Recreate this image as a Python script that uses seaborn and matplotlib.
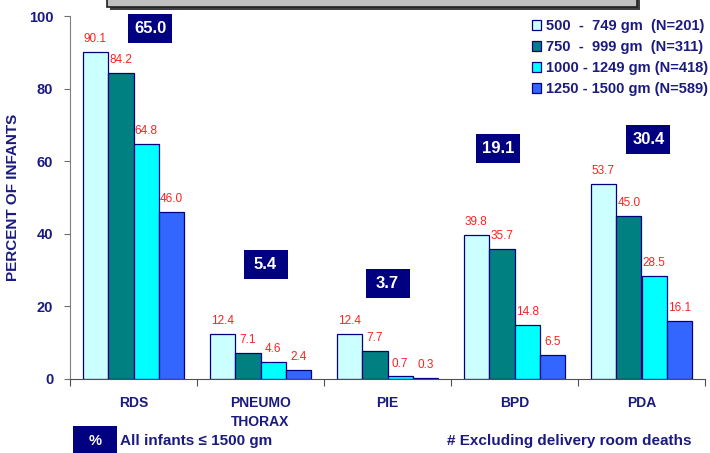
import matplotlib
matplotlib.use("Agg")
import matplotlib.pyplot as plt
import matplotlib.transforms as mtrans
from matplotlib.patches import Rectangle
import seaborn as sns
import pandas as pd

# ---- data ----
categories = ["RDS", "PNEUMO\nTHORAX", "PIE", "BPD", "PDA"]
groups = ["500  -  749 gm  (N=201)", "750  -  999 gm  (N=311)",
          "1000 - 1249 gm (N=418)", "1250 - 1500 gm (N=589)"]
v_500_749 = [90.1, 12.4, 12.4, 39.8, 53.7]
v_750_999 = [84.2, 7.1, 7.7, 35.7, 45.0]
v_1000_1249 = [64.8, 4.6, 0.7, 14.8, 28.5]
v_1250_1500 = [46.0, 2.4, 0.3, 6.5, 16.1]
all_infants = [65.0, 5.4, 3.7, 19.1, 30.4]
y_ticks = [0, 20, 40, 60, 80, 100]

# ---- layout / style ----
colors = ["#CCFFFF", "#008080", "#00FFFF", "#3366FF"]
navy = "#000080"
text_navy = "#1A1A80"
box_dx = [0.13, 0.04, 0.0, -0.13, 0.055]
box_y = [96.6, 31.5, 26.4, 63.6, 66.1]

sns.set_style("white")
plt.rcParams["font.family"] = ["Liberation Sans", "DejaVu Sans"]

series = [v_500_749, v_750_999, v_1000_1249, v_1250_1500]
rows = []
for g, vals in zip(groups, series):
    for c, v in zip(categories, vals):
        rows.append({"category": c, "group": g, "value": v})
df = pd.DataFrame(rows)

fig = plt.figure(figsize=(7.1, 4.53), dpi=100)
ax = fig.add_axes([70 / 710, 1 - 379 / 453, 635 / 710, 363 / 453])

sns.barplot(data=df, x="category", y="value", hue="group", order=categories,
            hue_order=groups, palette=colors, saturation=1, width=0.8,
            edgecolor=navy, linewidth=0.9, ax=ax)

for cont in ax.containers:
    ax.bar_label(cont, fmt="%.1f", padding=5, color="#FF2020", fontsize=8.5)

ax.set_ylim(0, 100)
ax.set_xlim(-0.5, 4.5)
ax.set_yticks(y_ticks)
ax.set_yticklabels([str(t) for t in y_ticks], fontsize=10.5, fontweight="bold",
                   color=text_navy)
ax.tick_params(axis="y", length=4, width=0.8, color="#707070", pad=8, left=True)
ax.set_xticks(range(len(categories)))
ax.set_xticklabels(categories, fontsize=10, fontweight="bold", color=text_navy,
                   linespacing=1.5, va="top")
ax.tick_params(axis="x", which="major", length=0, pad=12)
ax.set_xticks([i - 0.5 for i in range(len(categories) + 1)], minor=True)
ax.tick_params(axis="x", which="minor", length=5, width=0.8, color="#505050",
               direction="out", bottom=True)
ax.set_xlabel("")
ax.set_ylabel("")
for s in ["top", "right"]:
    ax.spines[s].set_visible(False)
ax.spines["left"].set_color("#808080")
ax.spines["bottom"].set_color("#505050")

# overall-value boxes
for i, (val, dx, y) in enumerate(zip(all_infants, box_dx, box_y)):
    trans = fig.dpi_scale_trans + mtrans.ScaledTranslation(i + dx, y, ax.transData)
    ax.add_patch(Rectangle((-0.22, -0.145), 0.44, 0.29, transform=trans,
                           facecolor=navy, edgecolor="none", clip_on=False, zorder=5))
    ax.text(i + dx, y, f"{val:.1f}", ha="center", va="center", color="white",
            fontsize=12, fontweight="bold", zorder=6)

# legend
handles, labels = ax.get_legend_handles_labels()
ax.legend(handles, labels, loc="upper left", bbox_to_anchor=(532 / 710, 1 - 19 / 453),
          bbox_transform=fig.transFigure, frameon=False, borderpad=0,
          borderaxespad=0, handlelength=0.62, handleheight=0.62, handletextpad=0.35,
          labelspacing=0.48, prop={"weight": "bold", "size": 10.5},
          labelcolor=text_navy)

fig.text(13 / 710, 1 - 197 / 453, "PERCENT OF INFANTS", rotation=90, ha="center",
         va="center", fontsize=11, fontweight="bold", color=text_navy)

# top gray banner (cut off)
fig.add_artist(Rectangle((110 / 710, 1 - 10 / 453), 530 / 710, 20 / 453,
                         transform=fig.transFigure, facecolor="#404040",
                         edgecolor="none"))
fig.add_artist(Rectangle((107 / 710, 1 - 7 / 453), 530 / 710, 20 / 453,
                         transform=fig.transFigure, facecolor="#C0C0C0",
                         edgecolor="#202020", linewidth=1.2))

# bottom notes
fig.add_artist(Rectangle((73 / 710, 0), 44 / 710, 27 / 453, transform=fig.transFigure,
                         facecolor=navy, edgecolor="none"))
fig.text(95 / 710, 1 - 441 / 453, "%", ha="center", va="center", color="white",
         fontsize=10.5, fontweight="bold")
fig.text(120 / 710, 1 - 441 / 453, "All infants \u2264 1500 gm", ha="left",
         va="center", color=text_navy, fontsize=11, fontweight="bold")
fig.text(447 / 710, 1 - 441 / 453, "# Excluding delivery room deaths", ha="left",
         va="center", color=text_navy, fontsize=11, fontweight="bold")

fig.savefig("out.png", dpi=100)
